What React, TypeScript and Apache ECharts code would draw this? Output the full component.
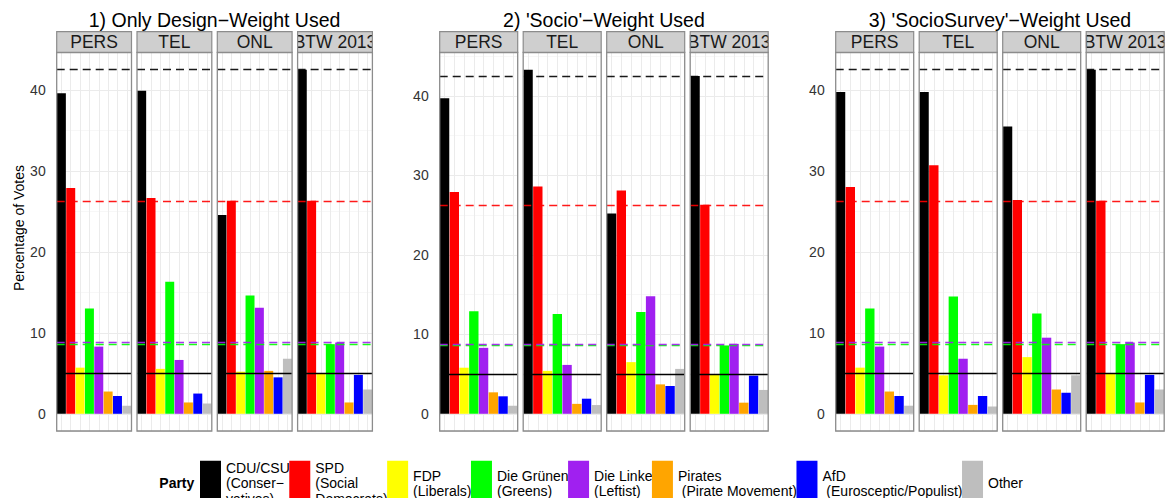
import React, { useEffect, useRef } from "react";
import * as echarts from "echarts";

// ---------- data ----------
const parties = ["CDU/CSU", "SPD", "FDP", "Die Grünen", "Die Linke", "Pirates", "AfD", "Other"];
const partyLabels = [
  "CDU/CSU\n(Conser\u2212\nvatives)",
  "SPD\n(Social\nDemocrats)",
  "FDP\n(Liberals)",
  "Die Grünen\n(Greens)",
  "Die Linke\n(Leftist)",
  "Pirates\n (Pirate Movement)",
  "AfD\n (Eurosceptic/Populist)",
  "Other",
];
const partyColors = ["#000000", "#FF0000", "#FFFF00", "#00FF00", "#A020F0", "#FFA500", "#0000FF", "#BEBEBE"];
const modes = ["PERS", "TEL", "ONL", "BTW 2013"];
const weightTitles = [
  "1) Only Design\u2212Weight Used",
  "2) 'Socio'\u2212Weight Used",
  "3) 'SocioSurvey'\u2212Weight Used",
];

const designPERS = [39.6, 27.9, 5.7, 13.0, 8.3, 2.75, 2.2, 1.0];
const designTEL = [39.9, 26.65, 5.55, 16.3, 6.65, 1.4, 2.5, 1.27];
const designONL = [24.56, 26.3, 5.2, 14.6, 13.1, 5.3, 4.5, 6.8];
const socioPERS = [39.7, 27.9, 5.8, 12.9, 8.3, 2.7, 2.2, 1.0];
const socioTEL = [43.3, 28.6, 5.4, 12.55, 6.15, 1.25, 1.9, 1.1];
const socioONL = [25.2, 28.1, 6.5, 12.8, 14.8, 3.7, 3.5, 5.65];
const surveyPERS = [39.75, 28.0, 5.7, 13.0, 8.3, 2.75, 2.2, 1.0];
const surveyTEL = [39.75, 30.7, 4.75, 14.5, 6.8, 1.1, 2.2, 0.9];
const surveyONL = [35.5, 26.4, 7.0, 12.4, 9.4, 3.0, 2.6, 4.75];
const btw2013 = [42.5, 26.3, 5.0, 8.6, 8.8, 1.4, 4.8, 3.0];
const threshold = 5;

const groupData = [
  [designPERS, designTEL, designONL, btw2013],
  [socioPERS, socioTEL, socioONL, btw2013],
  [surveyPERS, surveyTEL, surveyONL, btw2013],
];

// ---------- layout ----------
const FONT = "'Liberation Sans', Arial, Helvetica, sans-serif";
const groupLayout = [
  { left: 56.7, width: 74.8 },
  { left: 439.7, width: 78 },
  { left: 835.7, width: 78 },
];
const facetGap = 5.5;
const panelTop = 52.5;
const panelBottom = 431;
const stripTop = 31.7;
const borderColor = "#8C8C8C";
const stripFill = "#CFCFCF";

function buildOption() {
  const grid: any[] = [];
  const xAxis: any[] = [];
  const yAxis: any[] = [];
  const series: any[] = [];
  const graphic: any[] = [];

  groupData.forEach((facets, g) => {
    const gl = groupLayout[g];
    const gmax = Math.max(...facets.map((a) => Math.max(...a)));
    const ymin = -0.05 * gmax;
    const ymax = 1.05 * gmax;
    const groupWidth = gl.width * 4 + facetGap * 3;

    graphic.push({
      type: "text",
      x: gl.left + groupWidth / 2,
      y: 19.5,
      z: 100,
      style: {
        text: weightTitles[g],
        fontSize: 19.5,
        fontFamily: FONT,
        fill: "#000",
        align: "center",
        verticalAlign: "middle",
        textAlign: "center",
        textVerticalAlign: "middle",
      },
    });

    facets.forEach((vals, m) => {
      const idx = g * 4 + m;
      const left = gl.left + m * (gl.width + facetGap);
      grid.push({ left, top: panelTop, width: gl.width, height: panelBottom - panelTop, show: false, containLabel: false });
      xAxis.push({
        type: "category",
        gridIndex: idx,
        data: parties,
        axisLine: { show: false },
        axisTick: { show: false },
        axisLabel: { show: false },
        splitLine: { show: false },
      });
      yAxis.push({
        type: "value",
        gridIndex: idx,
        min: ymin,
        max: ymax,
        splitNumber: 5,
        axisLine: { show: false },
        axisTick: { show: false },
        axisLabel: {
          show: m === 0,
          fontSize: 14,
          fontFamily: FONT,
          color: "#333333",
          margin: 11,
          showMinLabel: false,
          showMaxLabel: false,
        },
        splitLine: { show: true, lineStyle: { color: "#EBEBEB", width: 1 } },
        minorTick: { show: false, splitNumber: 2 },
        minorSplitLine: { show: true, lineStyle: { color: "#F5F5F5", width: 0.8 } },
      });

      parties.forEach((p, pi) => {
        const s: any = {
          type: "bar",
          name: p,
          xAxisIndex: idx,
          yAxisIndex: idx,
          data: vals.map((v, i) => (i === pi ? v : "-")),
          barGap: "-100%",
          barCategoryGap: "4%",
          itemStyle: { color: partyColors[pi] },
          silent: true,
          z: 2,
        };
        if (pi === 0) {
          // vertical grid lines at category centres (under the bars)
          s.markLine = {
            silent: true,
            z: 1,
            symbol: ["none", "none"],
            label: { show: false },
            lineStyle: { color: "#EBEBEB", width: 1, type: "solid" },
            data: parties.map((c) => ({ xAxis: c })),
          };
        }
        if (pi === 7) {
          // reference lines: BTW 2013 results and 5% threshold
          const dash = { type: [8, 5], width: 1.3, opacity: 0.9 };
          s.markLine = {
            silent: true,
            z: 5,
            symbol: ["none", "none"],
            label: { show: false },
            data: [
              { yAxis: btw2013[3], lineStyle: { ...dash, color: partyColors[3] } },
              { yAxis: btw2013[4], lineStyle: { ...dash, color: partyColors[4] } },
              { yAxis: btw2013[1], lineStyle: { ...dash, color: partyColors[1] } },
              { yAxis: btw2013[0], lineStyle: { ...dash, color: partyColors[0] } },
              { yAxis: threshold, lineStyle: { type: "solid", width: 1.3, color: "#000" } },
            ],
          };
        }
        series.push(s);
      });

      // strip
      const sh = panelTop - stripTop;
      graphic.push({
        type: "rect",
        z: 90,
        shape: { x: left, y: stripTop, width: gl.width, height: sh },
        style: { fill: stripFill, stroke: null },
      });
      graphic.push({
        type: "text",
        z: 91,
        x: left + gl.width / 2,
        y: stripTop + sh / 2 + 0.3,
        style: {
          text: modes[m],
          fontSize: 17.5,
          fontFamily: FONT,
          fill: "#1A1A1A",
          align: "center",
          verticalAlign: "middle",
          textAlign: "center",
          textVerticalAlign: "middle",
        },
      });
      // hide overflowing strip text (clip to strip)
      graphic.push({
        type: "rect",
        z: 92,
        shape: { x: left - 4.9, y: stripTop - 1, width: 4.3, height: sh + 1.5 },
        style: { fill: "#fff" },
      });
      graphic.push({
        type: "rect",
        z: 92,
        shape: { x: left + gl.width + 0.6, y: stripTop - 1, width: 4.3, height: sh + 1.5 },
        style: { fill: "#fff" },
      });
      graphic.push({
        type: "rect",
        z: 93,
        shape: { x: left, y: stripTop, width: gl.width, height: sh },
        style: { fill: null, stroke: borderColor, lineWidth: 1.2 },
      });
      // panel border
      graphic.push({
        type: "rect",
        z: 95,
        shape: { x: left, y: panelTop, width: gl.width, height: panelBottom - panelTop },
        style: { fill: null, stroke: borderColor, lineWidth: 1.3 },
      });
    });
  });

  graphic.push({
    type: "text",
    x: 19,
    y: 228,
    rotation: Math.PI / 2,
    z: 100,
    style: {
      text: "Percentage of Votes",
      fontSize: 14,
      fontFamily: FONT,
      fill: "#000",
      align: "center",
      verticalAlign: "middle",
      textAlign: "center",
      textVerticalAlign: "middle",
    },
  });
  graphic.push({
    type: "text",
    x: 159.3,
    y: 482.5,
    z: 100,
    style: {
      text: "Party",
      fontSize: 14,
      fontWeight: "bold",
      fontFamily: FONT,
      fill: "#000",
      align: "left",
      verticalAlign: "middle",
      textAlign: "left",
      textVerticalAlign: "middle",
    },
  });

  return {
    animation: false,
    backgroundColor: "#FFFFFF",
    grid,
    xAxis,
    yAxis,
    series,
    graphic,
    legend: {
      data: parties.map((name) => ({ name, icon: "rect" })),
      left: 200,
      top: 460,
      padding: 0,
      orient: "horizontal",
      itemWidth: 21,
      itemHeight: 45,
      itemGap: -0.5,
      selectedMode: false,
      formatter: (name: string) => partyLabels[parties.indexOf(name)],
      textStyle: { fontSize: 14, lineHeight: 15.5, color: "#000", fontFamily: FONT },
    },
  };
}

export default function App() {
  const ref = useRef<HTMLDivElement>(null);
  useEffect(() => {
    if (!ref.current) return;
    const chart = echarts.init(ref.current, undefined, { renderer: "svg", width: 1166, height: 498 });
    chart.setOption(buildOption() as any);
    return () => chart.dispose();
  }, []);
  return (
    <div
      ref={ref}
      style={{ position: "absolute", left: 0, top: 0, width: 1166, height: 498, background: "#fff" }}
    />
  );
}
